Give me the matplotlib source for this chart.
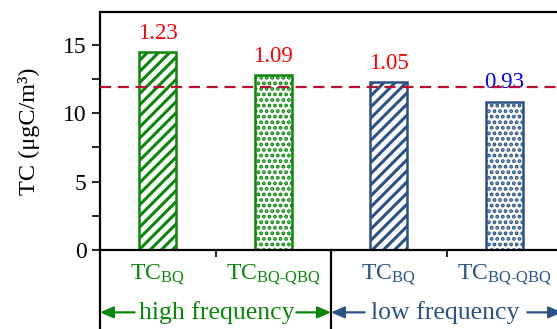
import matplotlib
matplotlib.use('Agg')
import matplotlib.pyplot as plt
from matplotlib.transforms import blended_transform_factory

plt.rcParams['font.family'] = ['Liberation Serif', 'DejaVu Serif']
plt.rcParams['mathtext.fontset'] = 'custom'
plt.rcParams['mathtext.rm'] = 'Liberation Serif'
plt.rcParams['mathtext.it'] = 'Liberation Serif:italic'

categories = ['TC$_{\\mathrm{BQ}}$', 'TC$_{\\text{BQ-QBQ}}$', 'TC$_{\\mathrm{BQ}}$', 'TC$_{\\text{BQ-QBQ}}$']
values = [14.45, 12.8, 12.25, 10.85]
ratios = ['1.23', '1.09', '1.05', '0.93']
ratio_colors = ['#FF0000', '#FF0000', '#FF0000', '#0000FF']
groups = ['high frequency', 'low frequency']
reference = 11.9

green = '#0A870A'
blue = '#2B5286'
bar_colors = [green, green, blue, blue]
hatches = ['///', '...', '///', '...']
hatch_lw = [2.2, 1.9, 2.2, 1.9]

fig = plt.figure(figsize=(5.57, 3.29), dpi=100)
ax = fig.add_axes([100 / 557, 79 / 329, 462 / 557, 238 / 329])

x = list(range(len(values)))
for i in x:
    with plt.rc_context({'hatch.linewidth': hatch_lw[i]}):
        ax.bar(i, values[i], width=0.32, color='white', edgecolor=bar_colors[i],
               hatch=hatches[i], linewidth=1.8, zorder=2)
    ax.text(i, values[i] + 0.6, ratios[i], ha='center', va='bottom',
            color=ratio_colors[i], fontsize=16.5)

ax.axhline(reference, color='#B8102E', lw=1.6, ls=(0, (5, 3)), zorder=3)

ax.set_xlim(-0.5, 3.5)
ax.set_ylim(0, 17.4)
ax.set_yticks([0, 5, 10, 15])
ax.set_yticks([2.5, 7.5, 12.5], minor=True)
ax.tick_params(axis='y', which='both', direction='out', length=6, width=1.2, labelsize=17)
ax.set_xticks([0.5, 2.5])
ax.set_xticklabels([])
ax.tick_params(axis='x', direction='out', length=5, width=1.2)
ax.spines['right'].set_visible(False)
for s in ['left', 'top', 'bottom']:
    ax.spines[s].set_linewidth(1.6)
ax.set_ylabel('TC (μgC/m³)', fontsize=17.5)
ax.yaxis.set_label_coords(-0.13, 0.5)

trans = blended_transform_factory(ax.transData, ax.transAxes)
for i in x:
    ax.text(i, -0.105, categories[i], transform=trans, ha='center', va='center',
            color=bar_colors[i], fontsize=17)

# separators below the axis
ax.plot([-0.5, -0.5], [0, -0.34], transform=trans, color='black', lw=1.6, clip_on=False)
ax.plot([1.5, 1.5], [0, -0.34], transform=trans, color='black', lw=1.6, clip_on=False)

# group labels with arrows
ya = -0.262
ax.text(0.51, ya, groups[0], transform=trans, ha='center', va='center', color=green, fontsize=18.5)
ax.text(2.49, ya, groups[1], transform=trans, ha='center', va='center', color=blue, fontsize=18.5)
arrows = [(-0.2, -0.5, green), (1.2, 1.5, green), (1.79, 1.5, blue), (3.2, 3.5, blue)]
for x0, x1, c in arrows:
    ax.annotate('', xy=(x1, ya), xytext=(x0, ya), xycoords=trans, textcoords=trans,
                arrowprops=dict(arrowstyle='-|>,head_length=0.8,head_width=0.35',
                                color=c, lw=1.6, shrinkA=0, shrinkB=0))

fig.savefig('out.png', dpi=100)
